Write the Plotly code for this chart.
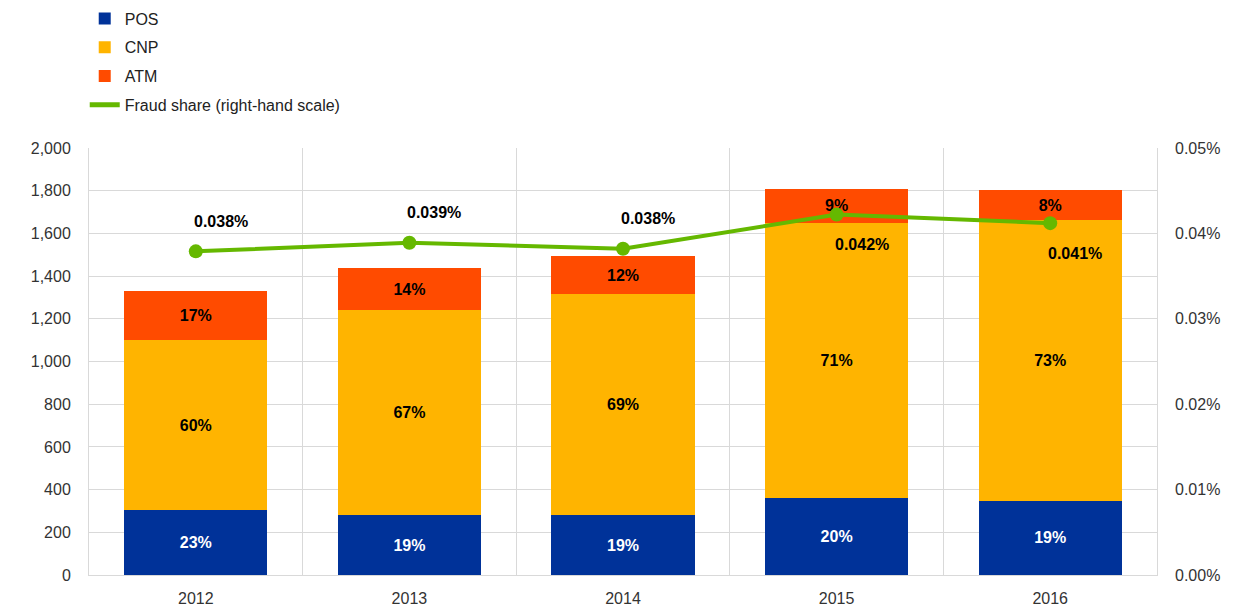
import plotly.graph_objects as go

years = ["2012", "2013", "2014", "2015", "2016"]
pos = [304, 281, 281, 361, 347]
cnp = [797, 960, 1035, 1290, 1316]
atm = [229, 197, 178, 157, 140]
pos_lbl = ["23%", "19%", "19%", "20%", "19%"]
cnp_lbl = ["60%", "67%", "69%", "71%", "73%"]
atm_lbl = ["17%", "14%", "12%", "9%", "8%"]
fraud_share = [0.000379, 0.000389, 0.000382, 0.000422, 0.000412]
fraud_lbl = ["0.038%", "0.039%", "0.038%", "0.042%", "0.041%"]
fraud_lbl_above = [True, True, True, False, False]

FONT = "Arial, Liberation Sans, sans-serif"
GREEN = "#65B800"
idx = list(range(len(years)))

fig = go.Figure()
for name, vals, lbls, col, tcol in [
    ("POS", pos, pos_lbl, "#003299", "white"),
    ("CNP", cnp, cnp_lbl, "#FFB400", "black"),
    ("ATM", atm, atm_lbl, "#FF4B00", "black"),
]:
    fig.add_trace(go.Bar(
        x=idx, y=vals, name=name, marker=dict(color=col, line=dict(width=0)),
        text=lbls, textposition="inside", insidetextanchor="middle",
        textfont=dict(family=FONT, size=16, color=tcol, weight="bold"),
        legendgroup=name, constraintext="none",
    ))

fig.add_trace(go.Scatter(
    x=idx, y=fraud_share, name="Fraud share (right-hand scale)", yaxis="y2",
    mode="lines+markers", line=dict(color=GREEN, width=4),
    marker=dict(color=GREEN, size=14), showlegend=False,
))
# legend-only entry (line icon without marker)
fig.add_trace(go.Scatter(
    x=[None], y=[None], name="Fraud share (right-hand scale)", yaxis="y2",
    mode="lines", line=dict(color=GREEN, width=5), legendgroup="fs",
))

for i, (v, t, above) in enumerate(zip(fraud_share, fraud_lbl, fraud_lbl_above)):
    fig.add_annotation(
        x=idx[i], y=v, yref="y2", text=t, showarrow=False,
        xshift=25, yshift=30 if above else -30,
        font=dict(family=FONT, size=16, color="black", weight="bold"),
    )

fig.update_layout(
    width=1229, height=599,
    margin=dict(l=81, r=80, t=140, b=32, autoexpand=False),
    plot_bgcolor="white", paper_bgcolor="white",
    barmode="stack", bargap=0.33,
    font=dict(family=FONT, size=16, color="#333333"),
    showlegend=True,
    legend=dict(x=-0.004, y=1.343, xanchor="left", yanchor="top",
                font=dict(family=FONT, size=16, color="#222222"),
                tracegroupgap=5, traceorder="grouped", itemwidth=30,
                bgcolor="rgba(0,0,0,0)"),
    xaxis=dict(
        range=[-0.5, 4.5], tickvals=idx, ticktext=years, showgrid=False,
        showline=True, linecolor="#d9d9d9", ticks="", zeroline=False, automargin=False,
        ticklabelstandoff=9,
        minor=dict(tickvals=[0.5, 1.5, 2.5, 3.5], showgrid=True, gridcolor="#d9d9d9", gridwidth=1),
        tickfont=dict(size=16, color="#333333"),
    ),
    yaxis=dict(
        range=[0, 2000], dtick=200, tickformat=",", showgrid=True, gridcolor="#d9d9d9",
        showline=True, linecolor="#d9d9d9", mirror=True, zeroline=False, ticks="",
        automargin=False, ticklabelstandoff=14, tickfont=dict(size=16, color="#333333"),
    ),
    yaxis2=dict(
        range=[0, 0.0005], dtick=0.0001, tickformat=".2%", overlaying="y", side="right",
        showgrid=False, zeroline=False, ticks="", ticklabelstandoff=17, automargin=False,
        tickfont=dict(size=16, color="#333333"),
    ),
)

fig.write_html("out.html")
